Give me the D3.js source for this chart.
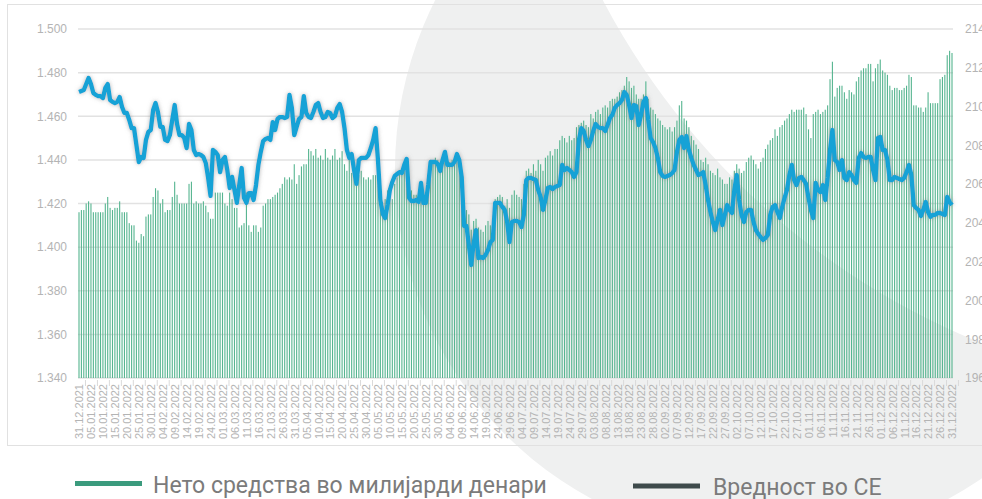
<!DOCTYPE html>
<html lang="mk">
<head>
<meta charset="UTF-8">
<script src="https://d3js.org/d3.v7.min.js"></script>
<title>Нето средства и вредност на СЕ 2022</title>
<style>
    body {
        margin: 0;
        padding: 0;
        background-color: white;
        font-family: "Liberation Sans", Arial, sans-serif;
    }
    svg {
        display: block;
    }
    .tick text {
        fill: #b4b4b4;
    }
    .legend text {
        font-family: Roboto, "Noto Sans", sans-serif;
        font-size: 23px;
        fill: #7b7b7b;
    }
</style>
</head>
<body>
<svg id="chart" width="982" height="499"></svg>
<script>
// net assets, billions of denars (bars, left axis), one value per calendar day from 31.12.2021
const netAssets = [
    1.416,1.417,1.417,1.420,1.421,1.420,1.416,1.416,1.416,1.416,
    1.416,1.420,1.423,1.418,1.417,1.418,1.418,1.421,1.416,1.416,
    1.416,1.411,1.410,1.410,1.403,1.402,1.406,1.405,1.414,1.415,
    1.415,1.423,1.427,1.426,1.420,1.422,1.416,1.417,1.417,1.423,
    1.430,1.424,1.420,1.420,1.420,1.420,1.429,1.430,1.420,1.421,
    1.420,1.420,1.421,1.419,1.416,1.413,1.413,1.425,1.425,1.425,
    1.425,1.420,1.419,1.425,1.422,1.418,1.418,1.409,1.410,1.411,
    1.425,1.410,1.407,1.410,1.410,1.407,1.409,1.419,1.420,1.422,
    1.422,1.423,1.424,1.425,1.427,1.429,1.432,1.431,1.432,1.431,
    1.438,1.429,1.433,1.437,1.438,1.438,1.445,1.444,1.442,1.445,
    1.441,1.442,1.440,1.445,1.441,1.440,1.442,1.445,1.440,1.441,
    1.444,1.438,1.435,1.440,1.434,1.433,1.432,1.433,1.435,1.432,
    1.431,1.432,1.431,1.433,1.433,1.431,1.424,1.419,1.422,1.426,
    1.425,1.422,1.429,1.432,1.435,1.434,1.436,1.440,1.430,1.426,
    1.424,1.424,1.422,1.429,1.424,1.423,1.433,1.440,1.439,1.441,
    1.440,1.438,1.441,1.444,1.440,1.439,1.440,1.441,1.442,1.440,
    1.433,1.419,1.417,1.415,1.408,1.412,1.413,1.409,1.408,1.407,
    1.410,1.412,1.410,1.412,1.422,1.423,1.424,1.423,1.419,1.422,
    1.418,1.424,1.426,1.424,1.423,1.422,1.429,1.435,1.436,1.434,
    1.438,1.435,1.440,1.438,1.435,1.441,1.442,1.444,1.442,1.445,
    1.445,1.449,1.451,1.450,1.448,1.451,1.449,1.450,1.455,1.456,
    1.457,1.458,1.456,1.455,1.461,1.459,1.462,1.463,1.461,1.464,
    1.465,1.464,1.467,1.468,1.468,1.469,1.471,1.472,1.474,1.478,
    1.476,1.473,1.474,1.470,1.468,1.468,1.470,1.476,1.468,1.464,
    1.463,1.461,1.459,1.458,1.456,1.455,1.454,1.455,1.453,1.455,
    1.458,1.465,1.467,1.459,1.458,1.455,1.451,1.449,1.447,1.445,
    1.440,1.439,1.441,1.438,1.435,1.434,1.433,1.436,1.432,1.431,
    1.429,1.429,1.432,1.431,1.435,1.438,1.436,1.434,1.435,1.439,
    1.441,1.442,1.440,1.438,1.436,1.439,1.441,1.445,1.447,1.449,
    1.450,1.454,1.451,1.455,1.456,1.458,1.459,1.461,1.463,1.462,
    1.463,1.463,1.463,1.464,1.461,1.454,1.450,1.461,1.462,1.463,
    1.461,1.462,1.463,1.465,1.477,1.485,1.469,1.473,1.474,1.474,
    1.471,1.468,1.472,1.471,1.470,1.476,1.478,1.481,1.482,1.482,
    1.484,1.484,1.476,1.482,1.484,1.486,1.481,1.480,1.479,1.474,
    1.472,1.473,1.473,1.472,1.472,1.473,1.474,1.479,1.478,1.465,
    1.465,1.464,1.464,1.462,1.464,1.471,1.466,1.466,1.466,1.466,
    1.477,1.478,1.479,1.488,1.490,1.489
];

// value of one accounting unit (line, right axis)
const unitValue = [
    210.75,210.80,210.85,211.16,211.47,211.16,210.70,210.60,210.54,210.54,
    210.44,210.96,211.16,210.34,210.24,210.18,210.24,210.49,209.98,209.67,
    209.67,209.31,208.89,208.89,208.02,207.14,207.40,207.35,208.28,208.69,
    208.79,209.82,210.18,209.72,208.95,208.95,208.28,208.22,208.53,209.31,
    210.08,209.10,208.53,208.53,208.38,207.86,209.10,208.79,207.76,207.50,
    207.55,207.50,207.40,207.09,206.32,205.39,207.76,207.66,207.50,206.62,
    207.24,207.40,206.73,205.80,206.37,205.70,205.03,205.95,206.83,205.29,
    205.03,205.54,205.54,205.18,205.95,206.99,207.66,208.22,208.33,208.38,
    208.28,209.20,208.79,209.36,209.46,209.46,209.41,209.46,210.60,209.93,
    208.53,208.95,209.36,209.46,210.54,209.67,209.46,209.41,209.72,210.08,
    210.18,209.72,209.41,209.46,209.72,209.67,209.41,209.51,209.93,210.13,
    209.72,208.89,207.76,207.35,207.55,206.73,206.01,207.24,207.35,207.35,
    207.35,207.50,207.86,208.28,208.89,207.24,205.18,204.46,204.25,204.92,
    205.70,206.11,206.42,206.52,206.62,206.57,206.99,207.30,205.29,205.13,
    205.13,205.18,205.08,206.06,205.03,205.03,205.95,207.14,207.14,207.14,
    207.04,206.68,207.24,207.66,206.99,206.99,206.99,207.14,207.55,207.24,
    206.37,203.84,203.84,202.86,201.83,202.96,203.63,202.19,202.24,202.19,
    202.35,202.60,203.01,203.12,205.03,205.03,205.03,204.82,204.67,204.05,
    203.01,204.05,204.10,204.10,204.05,203.79,204.41,206.21,206.32,206.32,
    206.26,206.21,205.70,205.34,204.67,205.18,205.80,205.85,205.75,205.85,
    205.90,205.95,206.99,206.73,206.83,206.73,206.62,206.37,206.62,208.28,
    208.89,208.74,208.28,207.96,208.28,208.74,209.10,208.95,208.89,208.89,
    208.74,209.05,209.41,209.57,209.93,210.08,210.18,210.34,210.75,210.60,
    210.08,209.41,210.08,210.03,209.05,209.57,210.24,210.44,209.31,208.38,
    208.17,207.86,207.35,206.62,206.42,206.37,206.42,206.47,206.57,206.73,
    207.66,208.28,208.43,207.86,208.48,207.76,207.35,206.99,206.73,206.47,
    206.52,206.62,205.95,205.18,204.56,204.05,203.63,204.15,204.67,203.89,
    204.41,204.92,204.67,204.51,205.70,206.47,205.18,204.41,204.05,204.56,
    204.67,204.67,204.05,203.63,203.43,203.27,203.12,203.22,203.38,204.41,
    204.82,204.92,204.56,204.25,204.82,205.29,205.70,206.47,206.99,206.21,
    205.95,206.32,206.37,206.21,206.01,205.29,204.67,204.25,206.06,205.70,
    205.59,205.95,205.18,206.32,207.76,208.79,207.24,207.14,206.73,207.24,
    206.32,206.21,206.62,206.47,206.21,206.06,207.35,207.60,207.40,207.35,
    207.40,207.40,206.73,206.21,208.38,208.43,207.76,207.76,207.24,206.21,
    206.21,206.37,206.32,206.26,206.21,206.32,206.62,206.99,206.47,204.92,
    204.77,204.67,204.36,204.67,205.08,204.56,204.31,204.41,204.41,204.51,
    204.51,204.46,204.41,205.34,205.08,204.92
];

const leftTicks = [1.34, 1.36, 1.38, 1.40, 1.42, 1.44, 1.46, 1.48, 1.50];
const rightTicks = [196, 198, 200, 202, 204, 206, 208, 210, 212, 214];
const labelEvery = 5;
const legendLabels = ["Нето средства во милијарди денари", "Вредност во СЕ"];

const firstDay = new Date(2021, 11, 31);
const days = netAssets.map((v, i) => d3.timeDay.offset(firstDay, i));
const fmtDay = d3.timeFormat("%d.%m.%Y");

const svg = d3.select("#chart");
const width = +svg.attr("width");
const height = +svg.attr("height");
const plot = { left: 79, right: 952, top: 29, bottom: 378 };

// decorative background: grey disc with a white disc biting into it from the top right
const defs = svg.append("defs");
defs.append("clipPath").attr("id", "cutWhite")
    .append("path")
    .attr("clip-rule", "evenodd")
    .attr("d", "M0,0H" + width + "V" + height + "H0Z M517,-347 a745,745 0 1,0 1490,0 a745,745 0 1,0 -1490,0");
svg.append("circle")
    .attr("cx", 770).attr("cy", 169).attr("r", 375)
    .attr("fill", "#eff0f0")
    .attr("clip-path", "url(#cutWhite)");

const glow = defs.append("filter").attr("id", "glow")
    .attr("x", "-5%").attr("y", "-20%").attr("width", "110%").attr("height", "140%");
glow.append("feDropShadow")
    .attr("dx", 0).attr("dy", 0).attr("stdDeviation", 2.2)
    .attr("flood-color", "#7a7a7a").attr("flood-opacity", 0.55);

// chart frame
svg.append("rect")
    .attr("x", 7.5).attr("y", 4.5)
    .attr("width", 1000).attr("height", 441)
    .attr("fill", "none")
    .attr("stroke", "#e1e1e1");

const x = d3.scalePoint().domain(days).range([plot.left, plot.right]);
const yLeft = d3.scaleLinear().domain([1.34, 1.50]).range([plot.bottom, plot.top]);
const yRight = d3.scaleLinear().domain([196, 214]).range([plot.bottom, plot.top]);

// gridlines
svg.append("g")
    .selectAll("line")
    .data(leftTicks)
    .join("line")
    .attr("x1", plot.left - 1).attr("x2", plot.right + 1)
    .attr("y1", d => yLeft(d)).attr("y2", d => yLeft(d))
    .attr("stroke", "#e2e2e2")
    .attr("stroke-width", 1.5);

// left axis
svg.append("g")
    .attr("transform", "translate(67,0)")
    .call(d3.axisLeft(yLeft).tickValues(leftTicks).tickFormat(d3.format(".3f")).tickSize(0).tickPadding(0))
    .call(g => g.select(".domain").remove())
    .selectAll("text")
    .attr("font-size", 12)
    .attr("font-family", "Liberation Sans, Arial, sans-serif");

// right axis (runs off the right edge, as in the source picture)
svg.append("g")
    .attr("transform", "translate(965,0)")
    .call(d3.axisRight(yRight).tickValues(rightTicks).tickSize(0).tickPadding(0))
    .call(g => g.select(".domain").remove())
    .selectAll("text")
    .attr("font-size", 12)
    .attr("font-family", "Liberation Sans, Arial, sans-serif");

// bars
svg.append("g")
    .selectAll("rect")
    .data(netAssets)
    .join("rect")
    .attr("x", (d, i) => x(days[i]) - 0.55)
    .attr("width", 1.1)
    .attr("y", d => yLeft(d))
    .attr("height", d => yLeft(1.34) - yLeft(d))
    .attr("fill", "#56b590");

// x axis with rotated dates; tick marks sit between the labels
const labelDays = days.filter((d, i) => i % labelEvery === 0);
const step = x.step() * labelEvery;
const xAxis = svg.append("g")
    .attr("transform", "translate(0," + (plot.bottom + 1) + ")")
    .call(d3.axisBottom(x)
        .tickValues(labelDays)
        .tickFormat(fmtDay)
        .tickSize(0)
        .tickPadding(0));
xAxis.select(".domain").remove();
xAxis.selectAll(".tick line")
    .attr("x1", step / 2).attr("x2", step / 2)
    .attr("y1", 1).attr("y2", 7)
    .attr("stroke", "#dadada");
xAxis.selectAll("text")
    .attr("font-size", 11)
    .attr("font-family", "Liberation Sans, Arial, sans-serif")
    .attr("text-anchor", "end")
    .attr("transform", "rotate(-90)")
    .attr("x", -5)
    .attr("y", 0)
    .attr("dy", "0.35em");

// unit value line
const line = d3.line()
    .x((d, i) => x(days[i]))
    .y(d => yRight(d));

svg.append("path")
    .datum(unitValue)
    .attr("d", line)
    .attr("fill", "none")
    .attr("stroke", "#14a2d6")
    .attr("stroke-width", 4.3)
    .attr("stroke-linejoin", "round")
    .attr("filter", "url(#glow)");

// legend
const legend = svg.append("g").attr("class", "legend");
const legendItems = [
    { label: legendLabels[0], color: "#3b9b7d", x0: 75, x1: 142, y: 483.5, tx: 153 },
    { label: legendLabels[1], color: "#3e4a4b", x0: 633, x1: 700, y: 486, tx: 713 }
];
legendItems.forEach(d => {
    legend.append("line")
        .attr("x1", d.x0).attr("x2", d.x1)
        .attr("y1", d.y).attr("y2", d.y)
        .attr("stroke", d.color)
        .attr("stroke-width", 5);
    legend.append("text")
        .attr("x", d.tx)
        .attr("y", d.y + 9)
        .text(d.label);
});
</script>
</body>
</html>
